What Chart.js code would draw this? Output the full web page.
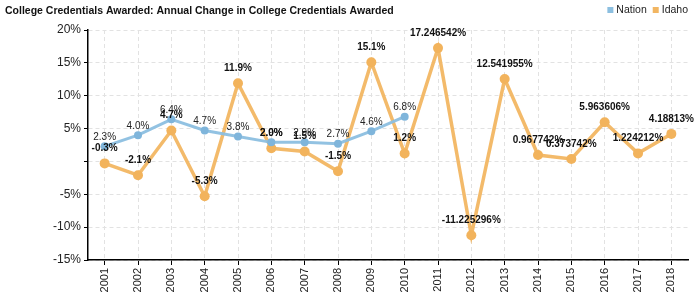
<!DOCTYPE html>
<html><head><meta charset="utf-8">
<script src="https://cdn.jsdelivr.net/npm/chart.js@4"></script>
<style>html,body{margin:0;padding:0;background:#fff}#w{width:700px;height:300px;position:relative}</style>
</head><body><div id="w"><canvas id="c"></canvas></div>
<script>
const chartTitle = 'College Credentials Awarded: Annual Change in College Credentials Awarded';
const years = ['2001','2002','2003','2004','2005','2006','2007','2008','2009','2010','2011','2012','2013','2014','2015','2016','2017','2018'];
const nation = [2.3, 4.0, 6.4, 4.7, 3.8, 2.9, 2.9, 2.7, 4.6, 6.8, null, null, null, null, null, null, null, null];
const idaho = [-0.3, -2.1, 4.7, -5.3, 11.9, 2.0, 1.5, -1.5, 15.1, 1.2, 17.246542, -11.225296, 12.541955, 0.967742, 0.373742, 5.963606, 1.224212, 4.18813];
const idahoLabels = ['-0.3%','-2.1%','4.7%','-5.3%','11.9%','2.0%','1.5%','-1.5%','15.1%','1.2%','17.246542%','-11.225296%','12.541955%','0.967742%','0.373742%','5.963606%','1.224212%','4.18813%'];
const nationLabels = ['2.3%','4.0%','6.4%','4.7%','3.8%','2.9%','2.9%','2.7%','4.6%','6.8%'];
const seriesNames = ['Nation', 'Idaho'];
const seriesColors = ['#8cbfe0', '#f2b662'];

const FONT = '"Liberation Sans", Arial, sans-serif';

const labelPlugin = {
  id: 'labels',
  afterDatasetsDraw(chart) {
    const ctx = chart.ctx;
    ctx.save();
    ctx.textAlign = 'center';
    ctx.textBaseline = 'middle';
    const m0 = chart.getDatasetMeta(0);
    ctx.font = '10px ' + FONT;
    ctx.fillStyle = '#222';
    m0.data.forEach((p, i) => {
      if (nation[i] == null) return;
      ctx.fillText(nationLabels[i], p.x, p.y - 9);
    });
    const m1 = chart.getDatasetMeta(1);
    ctx.font = 'bold 10px ' + FONT;
    ctx.fillStyle = '#111';
    m1.data.forEach((p, i) => {
      ctx.fillText(idahoLabels[i], p.x, p.y - 15);
    });
    ctx.restore();
  },
  afterDraw(chart) {
    const ctx = chart.ctx;
    ctx.save();
    ctx.textBaseline = 'middle';
    ctx.textAlign = 'left';
    ctx.fillStyle = '#111';
    ctx.font = 'bold 10.5px ' + FONT;
    ctx.fillText(chartTitle, 5, 11);
    ctx.font = '10.5px ' + FONT;
    ctx.fillStyle = '#222';
    const w1 = ctx.measureText(seriesNames[1]).width;
    const w0 = ctx.measureText(seriesNames[0]).width;
    let x = 688 - w1;
    ctx.fillText(seriesNames[1], x, 10);
    ctx.fillStyle = seriesColors[1];
    ctx.fillRect(x - 9, 7, 6, 6);
    x = x - 9 - 6 - w0;
    ctx.fillStyle = '#222';
    ctx.fillText(seriesNames[0], x, 10);
    ctx.fillStyle = seriesColors[0];
    ctx.fillRect(x - 9, 7, 6, 6);
    ctx.restore();
  }
};

new Chart(document.getElementById('c'), {
  type: 'line',
  data: {
    labels: years,
    datasets: [
      { label: seriesNames[0], data: nation, borderColor: 'rgba(140,191,224,0.95)', backgroundColor: '#7fb5db',
        borderWidth: 3, pointRadius: 4, pointBorderWidth: 0, pointBackgroundColor: '#7fb5db', tension: 0, spanGaps: false },
      { label: seriesNames[1], data: idaho, borderColor: 'rgba(242,182,98,0.95)', backgroundColor: '#f2b35c',
        borderWidth: 3.5, pointRadius: 5, pointBorderWidth: 0, pointBackgroundColor: '#f2b35c', tension: 0 }
    ]
  },
  options: {
    responsive: true, maintainAspectRatio: false, animation: false,
    layout: { padding: { top: 30, right: 12, left: 0, bottom: 0 } },
    plugins: { legend: { display: false }, title: { display: false }, tooltip: { enabled: false } },
    scales: {
      x: {
        offset: true,
        afterFit: s => { s.height = 40; },
        grid: { offset: false, color: '#e2e2e2', lineWidth: 1, tickLength: 5, tickColor: '#000', drawTicks: true },
        border: { color: '#000', width: 1.5, dash: [4, 3] },
        ticks: { autoSkip: false, minRotation: 90, maxRotation: 90, padding: 3, color: '#222', font: { size: 11, family: FONT } }
      },
      y: {
        min: -15, max: 20,
        afterFit: s => { s.width = 88; },
        ticks: {
          stepSize: 2.5, padding: 3, color: '#222', font: { size: 12, family: FONT },
          callback: v => (Math.abs(v % 5) < 1e-9 && v !== 0) ? v + '%' : ''
        },
        grid: {
          color: c => (Math.abs(c.tick.value % 5) < 1e-9) ? '#e2e2e2' : 'rgba(0,0,0,0)',
          tickColor: c => (Math.abs(c.tick.value % 5) < 1e-9) ? '#000' : '#e8403a',
          tickLength: 4, lineWidth: 1
        },
        border: { color: '#000', width: 1.5, dash: [4, 3] }
      }
    }
  },
  plugins: [labelPlugin]
});
</script>
</body></html>
